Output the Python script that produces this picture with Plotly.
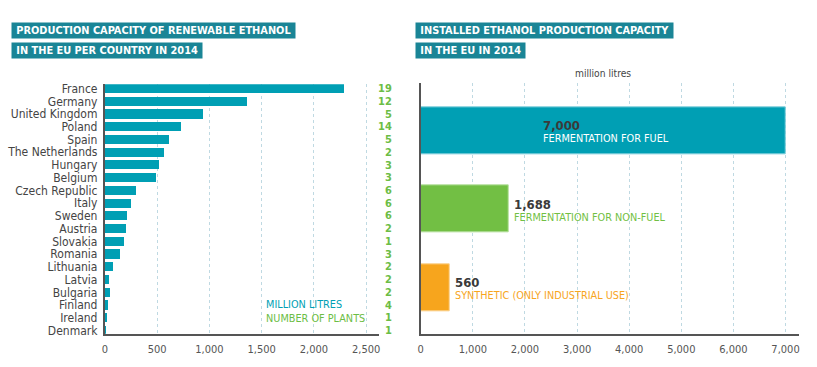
import plotly.graph_objects as go

# ---------------- data ----------------
countries = ["France", "Germany", "United Kingdom", "Poland", "Spain", "The Netherlands",
             "Hungary", "Belgium", "Czech Republic", "Italy", "Sweden", "Austria",
             "Slovakia", "Romania", "Lithuania", "Latvia", "Bulgaria", "Finland",
             "Ireland", "Denmark"]
capacity_ml = [2290, 1355, 940, 725, 610, 565, 520, 485, 300, 250, 210, 205,
               185, 140, 75, 35, 50, 30, 20, 8]
plants = [19, 12, 5, 14, 5, 2, 3, 3, 6, 6, 6, 2, 1, 3, 2, 2, 2, 4, 1, 1]

left_ticks = [0, 500, 1000, 1500, 2000, 2500]

types = ["FERMENTATION FOR FUEL", "FERMENTATION FOR NON-FUEL", "SYNTHETIC (ONLY INDUSTRIAL USE)"]
type_values = [7000, 1688, 560]
type_colors = ["#009fb4", "#72bf44", "#f7a51d"]
type_edges = ["#7fcfdb", "#b5df9c", "#fbd08c"]
type_text_colors = ["#ffffff", "#72bf44", "#f7a51d"]
right_ticks = [0, 1000, 2000, 3000, 4000, 5000, 6000, 7000]

title_left = ["PRODUCTION CAPACITY OF RENEWABLE ETHANOL", "IN THE EU PER COUNTRY IN 2014"]
title_right = ["INSTALLED ETHANOL PRODUCTION CAPACITY", "IN THE EU IN 2014"]

# ---------------- style ----------------
W, H = 817, 367
FONT = "DejaVu Sans Condensed, DejaVu Sans, sans-serif"
TEAL = "#009fb4"
GREEN = "#6cbd45"
TITLE_BG = "#1a8596"
AXIS = "#555555"
GRID = "#bfd9e2"

def px(x):
    return x / W

def py(y):
    return 1 - y / H

fig = go.Figure()

fig.add_trace(go.Bar(
    x=capacity_ml, y=countries, orientation="h",
    marker=dict(color=TEAL, line=dict(width=0)),
    width=0.72, xaxis="x", yaxis="y", showlegend=False,
))

fig.add_trace(go.Bar(
    x=type_values, y=types, orientation="h",
    marker=dict(color=type_colors, line=dict(color=type_edges, width=1)),
    width=0.595, xaxis="x2", yaxis="y2", showlegend=False,
))

fig.update_layout(
    width=W, height=H,
    margin=dict(l=0, r=0, t=0, b=0),
    paper_bgcolor="white", plot_bgcolor="white",
    font=dict(family=FONT, color="#444444"),
    bargap=0,
    xaxis=dict(
        domain=[px(102.5), px(378)], range=[0, 2620],
        tickvals=left_ticks, tickformat=",", ticks="",
        tickfont=dict(size=11, color="#555555"), ticklabelstandoff=4,
        showgrid=True, gridcolor=GRID, griddash="dot", gridwidth=1,
        showline=True, linecolor=AXIS, linewidth=2,
        zeroline=False, anchor="y",
    ),
    yaxis=dict(
        domain=[py(337.3), py(83.5)], type="category",
        categoryorder="array", categoryarray=countries,
        tickmode="array", tickvals=countries, ticktext=countries,
        range=[19.25, -0.35],
        ticks="", tickfont=dict(size=12, color="#444444"),
        showline=True, linecolor=AXIS, linewidth=2,
        showgrid=False, anchor="x", ticklabelstandoff=3,
    ),
    xaxis2=dict(
        domain=[px(420.3), px(800.7)], range=[0, 7255],
        tickvals=right_ticks, tickformat=",", ticks="",
        tickfont=dict(size=11, color="#555555"), ticklabelstandoff=4,
        showgrid=True, gridcolor=GRID, griddash="dot", gridwidth=1,
        showline=True, linecolor=AXIS, linewidth=2,
        zeroline=False, anchor="y2",
    ),
    yaxis2=dict(
        domain=[py(337.3), py(82.7)], type="category",
        categoryorder="array", categoryarray=types,
        range=[2.59, -0.605],
        showticklabels=False, ticks="",
        showline=True, linecolor=AXIS, linewidth=2,
        showgrid=False, anchor="x2",
    ),
)

ann = []

# number of plants column
for c, n in zip(countries, plants):
    ann.append(dict(
        x=px(393), xref="paper", y=c, yref="y", xanchor="right", yanchor="middle",
        text=f"<b>{n}</b>", showarrow=False,
        font=dict(size=11, color=GREEN, family=FONT),
    ))

# legend texts for left chart
ann.append(dict(x=px(263), y=py(308), xref="paper", yref="paper", xanchor="left", yanchor="middle",
                text="MILLION LITRES", showarrow=False, font=dict(size=10.8, color=TEAL, family=FONT)))
ann.append(dict(x=px(263), y=py(321.5), xref="paper", yref="paper", xanchor="left", yanchor="middle",
                text="NUMBER OF PLANTS", showarrow=False, font=dict(size=10.8, color=GREEN, family=FONT)))

# titles (teal boxes with white text)
def title_boxes(lines, x0):
    centers = [28.75, 49]
    for line, yc in zip(lines, centers):
        ann.append(dict(
            x=px(x0), y=py(yc), xref="paper", yref="paper",
            xanchor="left", yanchor="middle",
            text=f"&nbsp;<b>{line}</b>&nbsp;", showarrow=False,
            bgcolor=TITLE_BG, borderpad=1.2,
            font=dict(size=10.9, color="white", family=FONT),
        ))

title_boxes(title_left, 8)
title_boxes(title_right, 415)

# unit label
ann.append(dict(x=px(604), y=py(73), xref="paper", yref="paper", xanchor="center", yanchor="middle",
                text="million litres", showarrow=False, font=dict(size=10.2, color="#444444", family=FONT)))

# right chart value labels
for i, (t, v, tc) in enumerate(zip(types, type_values, type_text_colors)):
    if i == 0:
        xa, xr, xs = px(541), "paper", 0
    else:
        xa, xr, xs = v, "x2", 3
    ann.append(dict(x=xa, xref=xr, y=t, yref="y2", xanchor="left", yanchor="middle",
                    xshift=xs, yshift=5, text=f"<b>{v:,}</b>", showarrow=False,
                    font=dict(size=13, color="#3a3a3a", family=FONT)))
    ann.append(dict(x=xa, xref=xr, y=t, yref="y2", xanchor="left", yanchor="middle",
                    xshift=xs, yshift=-8, text=t, showarrow=False,
                    font=dict(size=10.8, color=tc, family=FONT)))

fig.update_layout(annotations=ann)
fig.write_html(
    "out.html",
    config={"displayModeBar": False},
    post_script="document.body.style.margin='0';document.body.style.padding='0';",
)
